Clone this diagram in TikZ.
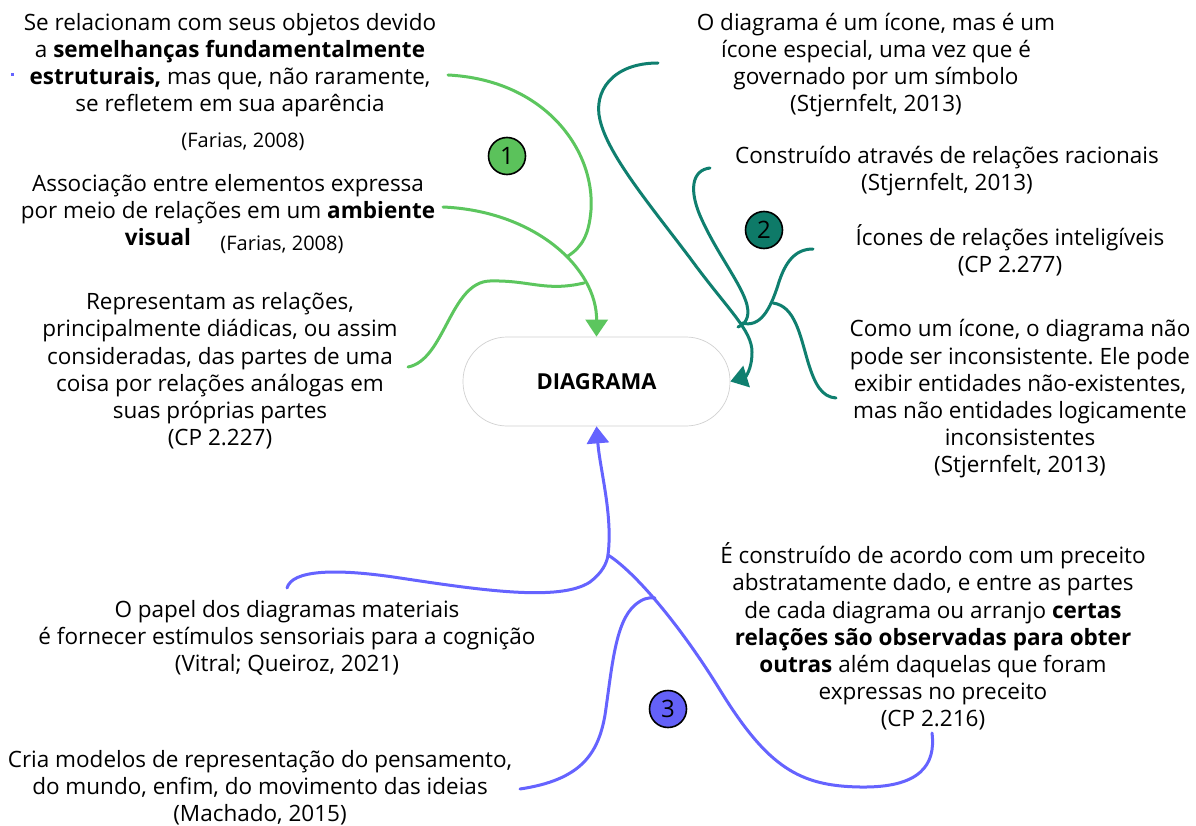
\documentclass[tikz,border=0pt]{standalone}
\usepackage{fontspec}
\setmainfont{Open Sans}
\usetikzlibrary{arrows.meta}
\frenchspacing
\definecolor{cgreen}{HTML}{5CC65E}
\definecolor{cteal}{HTML}{0F7F6F}
\definecolor{cpurple}{HTML}{6563FF}
\definecolor{bgreen}{HTML}{5BC25B}
\definecolor{bteal}{HTML}{0E7A68}
\definecolor{bpurple}{HTML}{6461F8}
\tikzset{
  txt/.style={align=center,inner sep=0pt,font=\fontsize{22.5}{27.2}\selectfont},
  cite/.style={inner sep=0pt,font=\fontsize{20}{20}\selectfont},
  conn/.style={line width=3pt,line cap=round},
  gline/.style={conn,draw=cgreen},
  tline/.style={conn,draw=cteal},
  pline/.style={conn,draw=cpurple},
  tip/.style={-{Triangle[length=17pt,width=22pt]}},
  badge/.style={circle,draw=black,line width=1.6pt,minimum size=37pt,inner sep=0pt,font=\fontsize{24}{24}\selectfont},
  hub/.style={draw=black!18,line width=0.7pt,rounded corners=44pt,minimum width=267pt,minimum height=89pt,fill=white,font=\bfseries\fontsize{22}{22}\selectfont}
}
\begin{document}
\begin{tikzpicture}[x=1pt,y=-1pt]
\useasboundingbox (0,0) rectangle (1196,826);
\fill[white] (0,0) rectangle (1196,826);

% central node
\node[hub] (diag) at (596.5,381.5) {DIAGRAMA};

% texts
\node[txt] (t1) at (230,65) {Se relacionam com seus objetos devido\\a \textbf{semelhanças fundamentalmente}\\\textbf{estruturais,} mas que, não raramente,\\se refletem em sua aparência};
\node[cite] (f1) at (243,142) {(Farias, 2008)};
\node[txt] (t2) at (228,199) {Associação entre elementos expressa\\por meio de relações em um \textbf{ambiente}};
\node[txt,font=\bfseries\fontsize{22.5}{27.2}\selectfont] (t2b) at (158,237) {visual};
\node[cite] (f2) at (282,245) {(Farias, 2008)};
\node[txt] (t3) at (220,371) {Representam as relações,\\principalmente diádicas, ou assim\\consideradas, das partes de uma\\coisa por relações análogas em\\suas próprias partes\\(CP 2.227)};
\node[txt] (t4) at (876,65) {O diagrama é um ícone, mas é um\\ícone especial, uma vez que é\\governado por um símbolo\\(Stjernfelt, 2013)};
\node[txt] (t5) at (947,171) {Construído através de relações racionais\\(Stjernfelt, 2013)};
\node[txt] (t6) at (1010,250.5) {Ícones de relações inteligíveis\\(CP 2.277)};
\node[txt] (t7) at (1020,399) {Como um ícone, o diagrama não\\pode ser inconsistente. Ele pode\\exibir entidades não-existentes,\\mas não entidades logicamente\\inconsistentes\\(Stjernfelt, 2013)};
\node[txt] (t8) at (933,636.5) {É construído de acordo com um preceito\\abstratamente dado, e entre as partes\\de cada diagrama ou arranjo \textbf{certas}\\\textbf{relações são observadas para obter}\\\textbf{outras} além daquelas que foram\\expressas no preceito\\(CP 2.216)};
\node[txt] (t9) at (287,638) {O papel dos diagramas materiais\\é fornecer estímulos sensoriais para a cognição\\(Vitral; Queiroz, 2021)};
\node[txt] (t10) at (260,788) {Cria modelos de representação do pensamento,\\do mundo, enfim, do movimento das ideias\\(Machado, 2015)};

% small dot
\fill[cpurple] (10.5,73.5) rectangle (13.5,76.5);

% badges
\node[badge,fill=bgreen] (b1) at (507,156) {1};
\node[badge,fill=bteal] (b2) at (764,230) {2};
\node[badge,fill=bpurple] (b3) at (668,709) {3};

% coordinates
\coordinate (g1) at (448,75);
\coordinate (g2) at (443,207);
\coordinate (g3) at (408,367);
\coordinate (gj1) at (568,256);
\coordinate (gj2) at (584,283);
\coordinate (d1) at (658,63);
\coordinate (d2) at (710,168);
\coordinate (d3) at (813,249);
\coordinate (d4) at (836,398);
\coordinate (dj1) at (738,327);
\coordinate (dj2) at (773,303);
\coordinate (p1) at (287,588);
\coordinate (p2) at (520,789);
\coordinate (p3) at (932,733);
\coordinate (pj) at (608,555);
\coordinate (pj2) at (655,598);

% green
\draw[gline,tip] (g2) .. controls (535,211) and (597,268) .. (diag.north);
\draw[gline] (g1) .. controls (545,80) and (595,150) .. (591,210) .. controls (589,235) and (582,247) .. (gj1);
\draw[gline] (g3) .. controls (445,360) and (450,282) .. (490,281) .. controls (530,280) and (545,292) .. (gj2);

% teal
\draw[tline,tip] (d1) .. controls (612,63) and (593,92) .. (600,120) .. controls (608,155) and (650,205) .. (690,258) .. controls (728,310) and (752,330) .. (752,352) .. controls (752,370) and (745,377) .. (diag.east);
\draw[tline] (d2) .. controls (692,170) and (688,190) .. (702,220) .. controls (718,255) and (742,285) .. (747,305) .. controls (750,318) and (745,324) .. (dj1);
\draw[tline] (d3) .. controls (795,249) and (785,262) .. (778,285) .. controls (770,310) and (760,328) .. (742,323);
\draw[tline] (dj2) .. controls (795,306) and (800,335) .. (808,362) .. controls (815,385) and (822,397) .. (d4);

% purple
\draw[pline,tip] (pj) .. controls (613,515) and (600,470) .. (diag.south);
\draw[pline] (p1) .. controls (292,570) and (335,568) .. (400,578) .. controls (480,590) and (560,602) .. (590,582) .. controls (602,573) and (607,563) .. (pj);
\draw[pline] (pj) .. controls (635,572) and (680,625) .. (720,690) .. controls (768,768) and (800,786) .. (860,787) .. controls (920,788) and (936,765) .. (p3);
\draw[pline] (p2) .. controls (580,780) and (598,755) .. (605,715) .. controls (612,668) and (615,622) .. (635,605) .. controls (642,599) and (648,597) .. (pj2);
\end{tikzpicture}
\end{document}
